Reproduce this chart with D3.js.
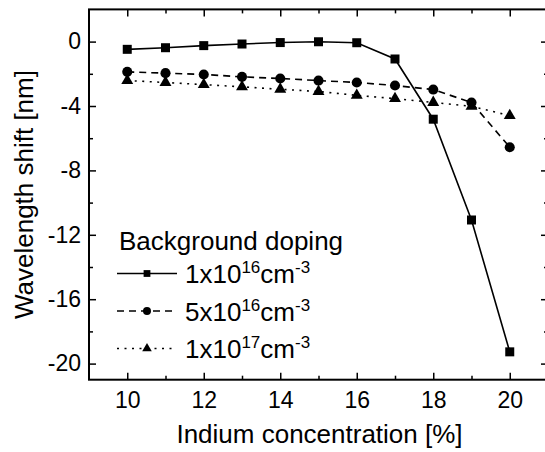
<html>
<head>
    <script src="https://cdn.jsdelivr.net/npm/d3@7"></script>
    <style>
        body { margin: 0; background: #fff; }
        text { font-family: "Liberation Sans", Arial, sans-serif; fill: #000; }
    </style>
</head>
<body>
    <svg id="chart" width="545" height="452"></svg>
    <script>
        // values
        var indium = [10, 11, 12, 13, 14, 15, 16, 17, 18, 19, 20];
        var shift1e16 = [-0.48, -0.38, -0.25, -0.15, -0.06, -0.01, -0.07, -1.08, -4.82, -11.08, -19.27];
        var shift5e16 = [-1.88, -1.96, -2.04, -2.19, -2.29, -2.42, -2.54, -2.73, -2.98, -3.78, -6.56];
        var shift1e17 = [-2.42, -2.54, -2.67, -2.81, -2.96, -3.10, -3.34, -3.54, -3.78, -4.02, -4.60];
        var xMajor = [10, 12, 14, 16, 18, 20];
        var xMinor = [11, 13, 15, 17, 19];
        var yMajor = [0, -4, -8, -12, -16, -20];
        var yMinor = [-2, -6, -10, -14, -18];
        var legendLabels = [["1x10", "16", "cm", "-3"], ["5x10", "16", "cm", "-3"], ["1x10", "17", "cm", "-3"]];

        var plotL = 89, plotR = 548, plotT = 9.4, plotB = 379.7;

        var svg = d3.select("#chart");

        var x = d3.scaleLinear().domain([9, 21]).range([plotL, plotR]);
        var y = d3.scaleLinear().domain([-21, 2]).range([plotB, plotT]);

        // ticks, all pointing inward
        function ticks(axis, pos, values, size, labels) {
            var g = svg.append("g")
                .attr("transform", pos)
                .call(axis.tickValues(values).tickSize(size)
                    .tickFormat(labels ? d3.format("d") : ""));
            g.select(".domain").remove();
            g.selectAll("line").attr("stroke", "#000").attr("stroke-width", 1.5);
            return g;
        }

        var gx = ticks(d3.axisBottom(x).tickPadding(12), "translate(0," + plotB + ")", xMajor, -7, true);
        gx.selectAll("text").style("font-size", "23px").attr("fill", "#000");
        ticks(d3.axisBottom(x), "translate(0," + plotB + ")", xMinor, -4, false);
        ticks(d3.axisTop(x), "translate(0," + plotT + ")", xMajor, -7, false);
        ticks(d3.axisTop(x), "translate(0," + plotT + ")", xMinor, -4, false);

        var gy = ticks(d3.axisLeft(y).tickPadding(8), "translate(" + plotL + ",0)", yMajor, -7, true);
        gy.selectAll("text").style("font-size", "23px").attr("fill", "#000")
            .text(function (d) { return String(d); });
        ticks(d3.axisLeft(y), "translate(" + plotL + ",0)", yMinor, -4, false);
        ticks(d3.axisRight(y), "translate(" + plotR + ",0)", yMajor, -7, false);
        ticks(d3.axisRight(y), "translate(" + plotR + ",0)", yMinor, -4, false);

        svg.append("rect")
            .attr("x", plotL).attr("y", plotT)
            .attr("width", plotR - plotL).attr("height", plotB - plotT)
            .attr("fill", "none").attr("stroke", "#000").attr("stroke-width", 2);

        // axis titles
        svg.append("text")
            .attr("x", (plotL + plotR) / 2 + 1).attr("y", 443)
            .attr("text-anchor", "middle").style("font-size", "26px")
            .text("Indium concentration [%]");

        svg.append("text")
            .attr("transform", "translate(33," + (plotT + plotB) / 2 + ") rotate(-90)")
            .attr("text-anchor", "middle").style("font-size", "26px")
            .text("Wavelength shift [nm]");

        // series
        var series = [
            { values: shift1e16, dash: null, symbol: d3.symbolSquare, size: 81, legSize: 46 },
            { values: shift5e16, dash: "7,5", symbol: d3.symbolCircle, size: 80, legSize: 50 },
            { values: shift1e17, dash: "2,5.5", symbol: d3.symbolTriangle, size: 62, legSize: 40 }
        ];

        var line = d3.line()
            .x(function (d, i) { return x(indium[i]); })
            .y(function (d) { return y(d); });

        series.forEach(function (s) {
            svg.append("path")
                .attr("d", line(s.values))
                .attr("fill", "none").attr("stroke", "#000").attr("stroke-width", 1.6)
                .attr("stroke-dasharray", s.dash);
        });

        series.forEach(function (s) {
            svg.selectAll(null)
                .data(s.values)
                .enter()
                .append("path")
                .attr("d", d3.symbol().type(s.symbol).size(s.size))
                .attr("transform", function (d, i) { return "translate(" + x(indium[i]) + "," + y(d) + ")"; })
                .attr("fill", "#000");
        });

        // legend
        svg.append("text")
            .attr("x", 119).attr("y", 250)
            .style("font-size", "26px")
            .text("Background doping");

        series.forEach(function (s, i) {
            var ly = 273.5 + i * 37.5;
            svg.append("line")
                .attr("x1", 117).attr("x2", 177).attr("y1", ly).attr("y2", ly)
                .attr("stroke", "#000").attr("stroke-width", 1.6)
                .attr("stroke-dasharray", s.dash);
            svg.append("path")
                .attr("d", d3.symbol().type(s.symbol).size(s.legSize))
                .attr("transform", "translate(147," + ly + ")")
                .attr("fill", "#000");
            var t = svg.append("text")
                .attr("x", 185).attr("y", ly + 9.5)
                .style("font-size", "26px");
            var lab = legendLabels[i];
            t.append("tspan").text(lab[0]);
            t.append("tspan").attr("dy", -10).style("font-size", "17px").text(lab[1]);
            t.append("tspan").attr("dy", 10).text(lab[2]);
            t.append("tspan").attr("dy", -10).style("font-size", "17px").text(lab[3]);
        });
    </script>
</body>
</html>
